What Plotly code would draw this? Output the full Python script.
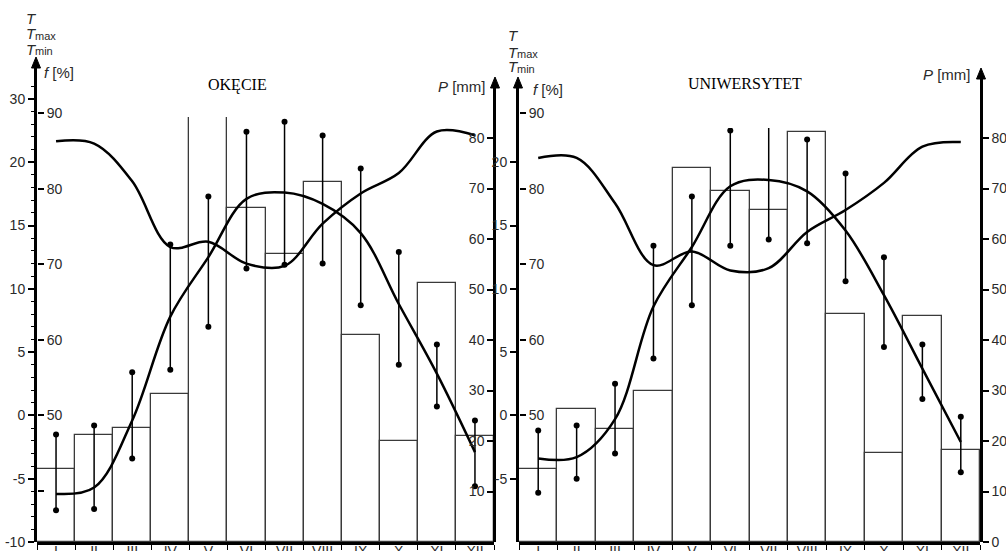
import plotly.graph_objects as go

W, H = 1006, 551

months = ["I", "II", "III", "IV", "V", "VI", "VII", "VIII", "IX", "X", "XI", "XII"]
month_pos = list(range(1, 13))

# Warszawa-Okęcie: precipitation [mm], mean / max / min temperature [°C], humidity [%]
okecie_precip = [14.5, 21.2, 22.6, 29.3, 92.0, 66.1, 57.0, 71.2, 40.9, 20.0, 51.3, 21.0]
okecie_temp = [-6.2, -5.7, -0.4, 7.8, 12.5, 17.1, 17.6, 16.7, 14.4, 8.8, 3.3, -2.9]
okecie_tmax = [-1.5, -0.8, 3.4, 13.5, 17.3, 22.4, 23.2, 22.1, 19.5, 12.9, 5.6, -0.4]
okecie_tmin = [-7.5, -7.4, -3.4, 3.6, 7.0, 11.6, 11.9, 12.0, 8.7, 4.0, 0.7, -5.6]
okecie_humid = [86.3, 86.0, 81.0, 72.3, 73.0, 70.1, 69.8, 75.4, 79.4, 82.1, 87.6, 87.1]

# Warszawa-Uniwersytet
uniw_precip = [14.5, 26.3, 22.4, 29.9, 74.1, 69.6, 65.7, 81.2, 45.1, 17.6, 44.8, 18.2]
uniw_temp = [-3.4, -3.3, -0.3, 8.6, 13.3, 18.1, 18.6, 17.7, 14.6, 9.5, 3.7, -2.1]
uniw_tmax = [-1.2, -0.8, 2.5, 13.4, 17.3, 22.5, 24.0, 21.8, 19.1, 12.5, 5.6, -0.1]
uniw_tmin = [-6.1, -5.0, -3.0, 4.5, 8.7, 13.4, 13.9, 13.6, 10.6, 5.4, 1.3, -4.5]
uniw_humid = [84.1, 84.1, 78.1, 69.9, 71.7, 69.2, 69.5, 74.3, 77.2, 80.8, 85.6, 86.2]

# tick values / labels
t_ticks_left = [-10, -5, 0, 5, 10, 15, 20, 25]
t_labels_left = ["-10", "-5", "0", "5", "10", "15", "20", "30"]
t_ticks_right = [-5, 0, 5, 10, 15, 20]
f_ticks_left = [40, 50, 60, 70, 80, 90]
f_labels_left = ["", "50", "60", "70", "80", "90"]
f_ticks_right = [50, 60, 70, 80, 90]
p_ticks_left = [10, 20, 30, 40, 50, 60, 70, 80]
p_ticks_right = [0, 10, 20, 30, 40, 50, 60, 70, 80]

# ---- geometry (pixels -> paper) ----
BOTTOM = 542          # baseline row
T_PX = 12.66          # px per degree
F_PX = 7.55           # px per percent
P_PX = 5.05           # px per mm
T_BASE = -10.0
F_BASE = 50 - 10 * T_PX / F_PX   # f = 50 % level with T = 0
P_BASE = 0.0

TEXT = "#2a2a2a"
SANS = "Liberation Sans, Arial, sans-serif"
NUM_FONT = dict(family=SANS, size=14, color=TEXT)


def py(v):
    return 1 - v / H


def pxx(v):
    return v / W


def rng(base, k, top):
    return [base, base + (BOTTOM - top) / k]


def whisker_xy(tmin, tmax):
    xs, ys = [], []
    for m, lo, hi in zip(month_pos, tmin, tmax):
        xs += [m, m, None]
        ys += [lo, hi, None]
    return xs, ys


panels = [
    dict(title="OKĘCIE", x="x", xk="xaxis", x0=37, x1=494, clip=117,
         ids=(1, 2, 3, 4, 5, 6), t_tip=57, t_top=66, p_tip=77, p_top=87,
         p_side="left",
         precip=okecie_precip, temp=okecie_temp, tmax=okecie_tmax,
         tmin=okecie_tmin, humid=okecie_humid,
         t_ticks=t_ticks_left, t_labels=t_labels_left, t_minor=True,
         f_ticks=f_ticks_left, f_labels=f_labels_left, p_ticks=p_ticks_left,
         title_x=237, title_y=85,
         lab_x=24, lab_y=(19, 34, 49), f_lab=(42, 72), p_lab=(488, 86)),
    dict(title="UNIWERSYTET", x="x2", xk="xaxis2", x0=519, x1=980, clip=128,
         ids=(7, 8, 9, 10, 11, 12), t_tip=77, t_top=87, p_tip=68, p_top=78,
         p_side="right",
         precip=uniw_precip, temp=uniw_temp, tmax=uniw_tmax,
         tmin=uniw_tmin, humid=uniw_humid,
         t_ticks=t_ticks_right, t_labels=[str(v) for v in t_ticks_right], t_minor=False,
         f_ticks=f_ticks_right, f_labels=[str(v) for v in f_ticks_right],
         p_ticks=p_ticks_right,
         title_x=745, title_y=83,
         lab_x=506, lab_y=(35, 52, 67), f_lab=(531, 90), p_lab=(973, 75)),
]

fig = go.Figure()
layout = {}
shapes = []
annotations = []


def yname(i):
    return "y" if i == 1 else f"y{i}"


def ykey(i):
    return "yaxis" if i == 1 else f"yaxis{i}"


def arrow(xpix, tip, base, hw=4.5):
    return dict(type="path", xref="paper", yref="paper", layer="above",
                path=(f"M {pxx(xpix - hw)} {py(base)} L {pxx(xpix)} {py(tip)} "
                      f"L {pxx(xpix + hw)} {py(base)} Z"),
                fillcolor="black", line=dict(color="black", width=1))


def label(text, xpix, ypix, anchor="left", size=15):
    return dict(text=text, x=pxx(xpix), y=py(ypix), xref="paper", yref="paper",
                xanchor=anchor, yanchor="middle", showarrow=False,
                font=dict(family=SANS, size=size, color=TEXT))


for p in panels:
    iP, iT, iF, vT, vF, vP = p["ids"]
    xa = p["x"]
    bottom = py(BOTTOM)

    # horizontal month axis
    layout[p["xk"]] = dict(
        domain=[pxx(p["x0"]), pxx(p["x1"])], range=[0.5, 12.5], anchor=yname(iP),
        showline=True, linewidth=2.5, linecolor="black", showgrid=False, zeroline=False,
        tickmode="array", tickvals=month_pos, ticktext=months, ticks="",
        tickfont=NUM_FONT, automargin=False, ticklabelstandoff=-6,
        minor=dict(tickmode="array", tickvals=[m - 0.5 for m in month_pos] + [12.5],
                   ticks="outside", ticklen=5, tickwidth=1.2, tickcolor="black",
                   showgrid=False),
        fixedrange=True,
    )

    # plotting axes (clipped drawing area)
    dom = [bottom, py(p["clip"])]
    layout[ykey(iP)] = dict(domain=dom, range=rng(P_BASE, P_PX, p["clip"]), anchor=xa,
                            visible=False, fixedrange=True, automargin=False)
    layout[ykey(iT)] = dict(range=rng(T_BASE, T_PX, p["clip"]), overlaying=yname(iP),
                            anchor=xa, visible=False, fixedrange=True, automargin=False)
    layout[ykey(iF)] = dict(range=rng(F_BASE, F_PX, p["clip"]), overlaying=yname(iP),
                            anchor=xa, visible=False, fixedrange=True, automargin=False)

    # visible scales
    common = dict(showgrid=False, zeroline=False, tickfont=NUM_FONT, ticks="outside",
                  ticklen=6, tickwidth=1.6, tickcolor="black", fixedrange=True,
                  tickmode="array", automargin=False)
    tdict = dict(common, domain=[bottom, py(p["t_top"])], range=rng(T_BASE, T_PX, p["t_top"]),
                 anchor=xa, side="left", showline=True, linewidth=3, linecolor="black",
                 tickvals=p["t_ticks"], ticktext=p["t_labels"])
    if p["t_minor"]:
        tdict["minor"] = dict(tickmode="array", tickvals=list(range(-10, 27)),
                              ticks="outside", ticklen=3, tickwidth=1, tickcolor="black",
                              showgrid=False)
    layout[ykey(vT)] = tdict
    layout[ykey(vF)] = dict(common, domain=[bottom, py(p["t_top"])],
                            range=rng(F_BASE, F_PX, p["t_top"]),
                            anchor="free", position=pxx(p["x0"]), side="right",
                            showline=False, tickvals=p["f_ticks"], ticktext=p["f_labels"])
    pdict = dict(common, domain=[bottom, py(p["p_top"])], range=rng(P_BASE, P_PX, p["p_top"]),
                 side=p["p_side"], showline=True, linewidth=2.5, linecolor="black",
                 tickvals=p["p_ticks"], ticktext=[str(v) for v in p["p_ticks"]])
    if p["p_side"] == "left":
        pdict.update(anchor="free", position=pxx(p["x1"]))
    else:
        pdict.update(anchor=xa)
    layout[ykey(vP)] = pdict

    # precipitation bars
    fig.add_trace(go.Bar(
        x=month_pos, y=p["precip"], width=1, xaxis=xa, yaxis=yname(iP),
        marker=dict(color="white", line=dict(color="#3a3a3a", width=1.3)),
        showlegend=False, hoverinfo="skip"))
    # min-max temperature whiskers
    wx, wy = whisker_xy(p["tmin"], p["tmax"])
    fig.add_trace(go.Scatter(
        x=wx, y=wy, xaxis=xa, yaxis=yname(iT), mode="lines+markers",
        line=dict(color="black", width=1.5),
        marker=dict(color="black", size=6), showlegend=False, hoverinfo="skip"))
    # mean temperature
    fig.add_trace(go.Scatter(
        x=month_pos, y=p["temp"], xaxis=xa, yaxis=yname(iT), mode="lines",
        line=dict(color="black", width=2.5, shape="spline", smoothing=1.0),
        showlegend=False, hoverinfo="skip"))
    # relative humidity
    fig.add_trace(go.Scatter(
        x=month_pos, y=p["humid"], xaxis=xa, yaxis=yname(iF), mode="lines",
        line=dict(color="black", width=2.5, shape="spline", smoothing=1.0),
        showlegend=False, hoverinfo="skip"))
    # register the scale axes
    for v in (vT, vF, vP):
        fig.add_trace(go.Scatter(x=[None], y=[None], xaxis=xa, yaxis=yname(v),
                                 mode="lines", showlegend=False, hoverinfo="skip"))

    # arrow heads on the vertical scales
    shapes.append(arrow(p["x0"] - 1, p["t_tip"], p["t_tip"] + 11))
    shapes.append(arrow(p["x1"] + 1, p["p_tip"], p["p_tip"] + 11))

    # T / Tmax / Tmin stacked labels (subscripts set as smaller text)
    ly = p["lab_y"]
    annotations.append(label("<i>T</i>", p["lab_x"], ly[0]))
    annotations.append(label("<i>T</i>", p["lab_x"], ly[1]))
    annotations.append(label("max", p["lab_x"] + 9, ly[1] + 2, size=11))
    annotations.append(label("<i>T</i>", p["lab_x"], ly[2]))
    annotations.append(label("min", p["lab_x"] + 9, ly[2] + 2, size=11))
    annotations.append(label("<i>f</i> [%]", p["f_lab"][0], p["f_lab"][1]))
    annotations.append(label("<i>P</i> [mm]", p["p_lab"][0], p["p_lab"][1], anchor="right"))
    annotations.append(dict(text=p["title"], x=pxx(p["title_x"]), y=py(p["title_y"]),
                            xref="paper", yref="paper", xanchor="center", yanchor="middle",
                            showarrow=False,
                            font=dict(family="Liberation Serif, Times New Roman, serif",
                                      size=16, color="black")))

fig.update_layout(
    template="none",
    width=W, height=H, margin=dict(l=0, r=0, t=0, b=0, autoexpand=False),
    paper_bgcolor="white", plot_bgcolor="rgba(0,0,0,0)",
    barmode="overlay", bargap=0, showlegend=False,
    font=dict(family=SANS, color=TEXT),
    shapes=shapes, annotations=annotations, **layout,
)

fig.write_html("out.html", config={"displayModeBar": False})
